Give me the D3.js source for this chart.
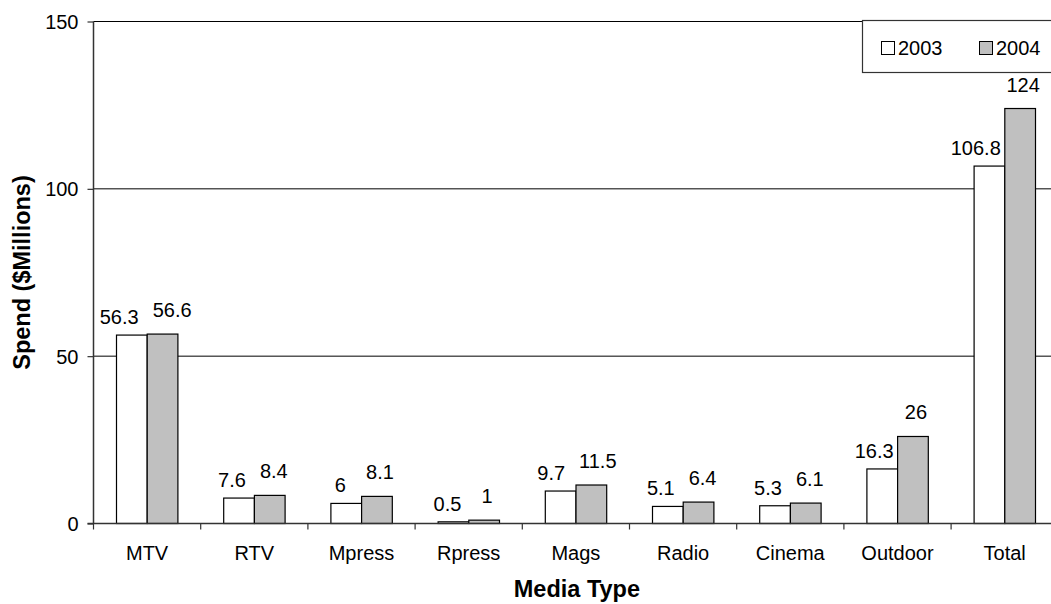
<!DOCTYPE html>
<html>
<head>
<meta charset="utf-8">
<script src="https://cdn.jsdelivr.net/npm/d3@7"></script>
<style>
  html, body { margin: 0; padding: 0; background: #fff; overflow: hidden; }
  svg { display: block; font-family: "Liberation Sans", Arial, sans-serif; }
</style>
</head>
<body>
<svg id="chart" width="1051" height="604"></svg>
<script>
// Media spend by type, $ millions
const categories = ["MTV", "RTV", "Mpress", "Rpress", "Mags", "Radio", "Cinema", "Outdoor", "Total"];
const seriesNames = ["2003", "2004"];
const spend2003 = [56.3, 7.6, 6, 0.5, 9.7, 5.1, 5.3, 16.3, 106.8];
const spend2004 = [56.6, 8.4, 8.1, 1, 11.5, 6.4, 6.1, 26, 124];
const yTicks = [0, 50, 100, 150];

const seriesValues = [spend2003, spend2004];
const fills = ["#ffffff", "#c0c0c0"];

const svg = d3.select("#chart");
const plot = { left: 93.5, top: 21.5, bottom: 523.5, step: 107.2 };
plot.right = plot.left + plot.step * categories.length; // runs past the right edge

const x = d3.scaleBand().domain(categories).range([plot.left, plot.right]).padding(0);
const xs = d3.scaleBand().domain(seriesNames).range([23, 23 + 61.4]).padding(0);
const y = d3.scaleLinear().domain([0, 150]).range([plot.bottom, plot.top]);

// Horizontal gridlines
svg.append("g")
  .selectAll("line")
  .data(yTicks.filter(t => t > 0))
  .join("line")
  .attr("x1", plot.left).attr("x2", plot.right)
  .attr("y1", d => y(d)).attr("y2", d => y(d))
  .attr("stroke", "#000").attr("stroke-width", 1);

// Bars
const rows = categories.map((c, i) => seriesNames.map((s, j) => ({ cat: c, series: s, si: j, value: seriesValues[j][i] })));
const groups = svg.append("g").selectAll("g")
  .data(rows)
  .join("g")
  .attr("transform", d => `translate(${x(d[0].cat)},0)`);

groups.selectAll("rect")
  .data(d => d)
  .join("rect")
  .attr("x", d => xs(d.series))
  .attr("width", xs.bandwidth())
  .attr("y", d => y(d.value))
  .attr("height", d => y(0) - y(d.value))
  .attr("fill", d => fills[d.si])
  .attr("stroke", "#000")
  .attr("stroke-width", 1.2);

// Value labels: the 2003 label leans left, the 2004 label rises higher
groups.each(function (pair) {
  const g = d3.select(this);
  const labels = pair.map(d => {
    const cx = xs(d.series) + xs.bandwidth() / 2 + (d.si === 0 ? -6 : 3);
    const by = y(d.value) - (d.si === 0 ? 11 : 17);
    const t = g.append("text")
      .attr("text-anchor", "middle")
      .attr("font-size", 20)
      .attr("fill", "#000")
      .text(d.value);
    return { d, t, cx, by, w: t.node().getComputedTextLength() };
  });
  const [a, b] = labels;
  // Spread the pair apart when they share a row
  const vOverlap = Math.abs(a.by - b.by) < 16;
  const gap = (b.cx - b.w / 2) - (a.cx + a.w / 2);
  if (vOverlap && gap < 14) {
    const push = (14 - gap) / 2;
    a.cx -= push; b.cx += push;
  }
  // Keep the 2003 label clear of the taller 2004 bar
  const barLeft = xs(seriesNames[1]);
  if (a.by > y(b.d.value) && a.cx + a.w / 2 > barLeft - 4) {
    a.cx = barLeft - 4 - a.w / 2;
  }
  labels.forEach(l => l.t.attr("x", l.cx).attr("y", l.by));
});

// Y axis
const yAxis = d3.axisLeft(y).tickValues(yTicks).tickSize(6).tickPadding(9).tickFormat(d3.format("d"));
const gy = svg.append("g").attr("transform", `translate(${plot.left},0)`).call(yAxis);
gy.select(".domain").attr("stroke", "#333").attr("stroke-width", 1.5).attr("d", `M0,${plot.top}V${plot.bottom}`);
gy.selectAll(".tick line").attr("stroke", "#333").attr("stroke-width", 1.2);
gy.selectAll(".tick text").attr("font-size", 20).attr("fill", "#000")
  .attr("font-family", "Liberation Sans, Arial, sans-serif").attr("dy", "0.35em");

// X axis: ticks on category boundaries
const gx = svg.append("g");
gx.append("line")
  .attr("x1", plot.left - 6).attr("x2", plot.right)
  .attr("y1", plot.bottom).attr("y2", plot.bottom)
  .attr("stroke", "#333").attr("stroke-width", 1.5);
gx.selectAll("line.tick")
  .data(categories)
  .join("line")
  .attr("class", "tick")
  .attr("x1", d => x(d)).attr("x2", d => x(d))
  .attr("y1", plot.bottom).attr("y2", plot.bottom + 6)
  .attr("stroke", "#333").attr("stroke-width", 1.2);
gx.selectAll("text")
  .data(categories)
  .join("text")
  .attr("x", d => x(d) + x.bandwidth() / 2)
  .attr("y", 560)
  .attr("text-anchor", "middle")
  .attr("font-size", 20)
  .attr("fill", "#000")
  .text(d => d);

// Axis titles
svg.append("text")
  .attr("x", (plot.left + plot.right) / 2 + 1)
  .attr("y", 597)
  .attr("text-anchor", "middle")
  .attr("font-size", 23.5)
  .attr("font-weight", "bold")
  .text("Media Type");

svg.append("text")
  .attr("transform", `translate(30,${(plot.top + plot.bottom) / 2}) rotate(-90)`)
  .attr("text-anchor", "middle")
  .attr("font-size", 23.5)
  .attr("font-weight", "bold")
  .text("Spend ($Millions)");

// Legend
const legend = svg.append("g");
legend.append("rect")
  .attr("x", 862.5).attr("y", 20.5).attr("width", 220).attr("height", 52)
  .attr("fill", "#fff").attr("stroke", "#333").attr("stroke-width", 1.2);
const items = legend.selectAll("g")
  .data(seriesNames)
  .join("g")
  .attr("transform", (d, i) => `translate(${881 + i * 98},0)`);
items.append("rect")
  .attr("x", 0.5).attr("y", 41.5).attr("width", 13).attr("height", 13)
  .attr("fill", (d, i) => fills[i]).attr("stroke", "#000").attr("stroke-width", 1);
items.append("text")
  .attr("x", 17).attr("y", 55)
  .attr("font-size", 20)
  .text(d => d);
</script>
</body>
</html>
